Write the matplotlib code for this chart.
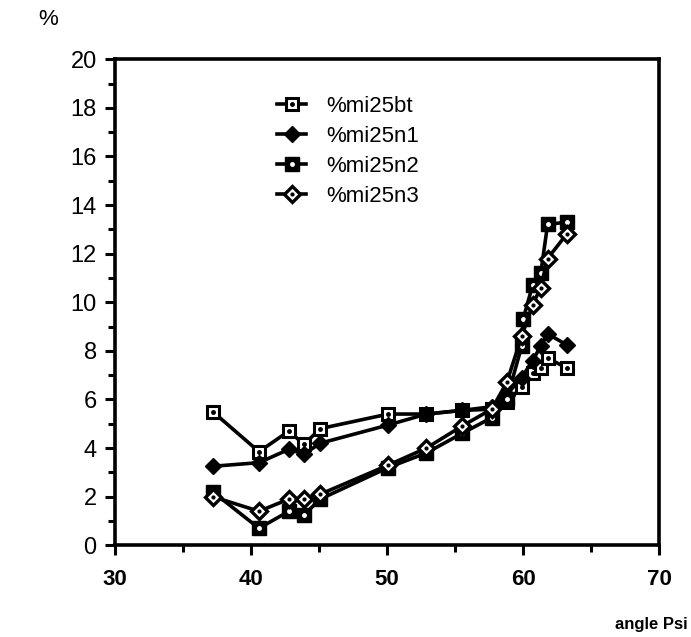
import matplotlib
matplotlib.use("Agg")
import matplotlib.pyplot as plt
from matplotlib.legend_handler import HandlerTuple
from matplotlib.ticker import MultipleLocator

plt.rcParams['font.family'] = ['Liberation Sans', 'DejaVu Sans']

# angle Psi values and % for each series
psi = [37.2, 40.6, 42.8, 43.9, 45.1, 50.1, 52.9, 55.5, 57.7, 58.8,
       59.9, 60.7, 61.3, 61.8, 63.2]
mi25bt = [5.5, 3.85, 4.7, 4.15, 4.8, 5.4, 5.4, 5.55, 5.6, 5.9,
          6.5, 7.1, 7.3, 7.7, 7.3]
mi25n1 = [3.25, 3.4, 3.95, 3.75, 4.2, 4.95, 5.4, 5.55, 5.7, 6.2,
          6.9, 7.6, 8.2, 8.7, 8.25]
psi_n2 = [37.2, 40.6, 42.8, 43.9, 45.1, 50.1, 52.9, 55.5, 57.7, 58.8,
          59.9, 60.0, 60.7, 61.3, 61.8, 63.2]
mi25n2 = [2.2, 0.7, 1.4, 1.25, 1.9, 3.2, 3.8, 4.6, 5.25, 6.0,
          8.2, 9.3, 10.7, 11.2, 13.2, 13.3]
mi25n3 = [2.0, 1.4, 1.9, 1.9, 2.1, 3.3, 4.0, 4.9, 5.6, 6.7,
          8.6, 9.9, 10.6, 11.8, 12.8]

fig = plt.figure(figsize=(6.91, 6.37), dpi=100)
ax = fig.add_axes([0.166, 0.144, 0.788, 0.763])

lw = 2.6
# %mi25bt: open square with a dot
l1, = ax.plot(psi, mi25bt, color='black', lw=lw, marker='s', ms=9,
              mfc='white', mec='black', mew=2.2)
d1, = ax.plot(psi, mi25bt, ls='none', marker='o', ms=2.5, color='black')
# %mi25n1: filled diamond
l2, = ax.plot(psi, mi25n1, color='black', lw=lw, marker='D', ms=8,
              mfc='black', mec='black')
# %mi25n2: filled square with white dot
l3, = ax.plot(psi_n2, mi25n2, color='black', lw=lw, marker='s', ms=10,
              mfc='black', mec='black')
d3, = ax.plot(psi_n2, mi25n2, ls='none', marker='o', ms=2.5, color='white')
# %mi25n3: open diamond
l4, = ax.plot(psi, mi25n3, color='black', lw=lw, marker='D', ms=8,
              mfc='white', mec='black', mew=2.4)
d4, = ax.plot(psi, mi25n3, ls='none', marker='o', ms=2, color='black')

ax.set_xlim(30, 70)
ax.set_ylim(0, 20)
ax.xaxis.set_major_locator(MultipleLocator(10))
ax.xaxis.set_minor_locator(MultipleLocator(5))
ax.yaxis.set_major_locator(MultipleLocator(2))
ax.yaxis.set_minor_locator(MultipleLocator(1))
ax.tick_params(which='both', direction='out', width=2.2, top=False, right=False)
ax.tick_params(which='major', length=7)
ax.tick_params(which='minor', length=5)
ax.tick_params(axis='x', labelsize=16, pad=10)
ax.tick_params(axis='y', labelsize=17, pad=6)
for lab in ax.get_xticklabels():
    lab.set_fontweight('bold')
for s in ax.spines.values():
    s.set_linewidth(2.6)

leg = ax.legend([(l1, d1), (l2,), (l3, d3), (l4, d4)],
                ['%mi25bt', '%mi25n1', '%mi25n2', '%mi25n3'],
                handler_map={tuple: HandlerTuple(ndivide=1, pad=0)},
                loc='upper left', bbox_to_anchor=(0.262, 0.965), frameon=False,
                fontsize=16, handlelength=1.3, labelspacing=0.4,
                handletextpad=0.9)

fig.text(0.055, 0.96, '%', fontsize=16)
fig.text(0.995, 0.012, 'angle Psi', fontsize=12, fontweight='bold', ha='right')

fig.savefig('out.png', dpi=100)
